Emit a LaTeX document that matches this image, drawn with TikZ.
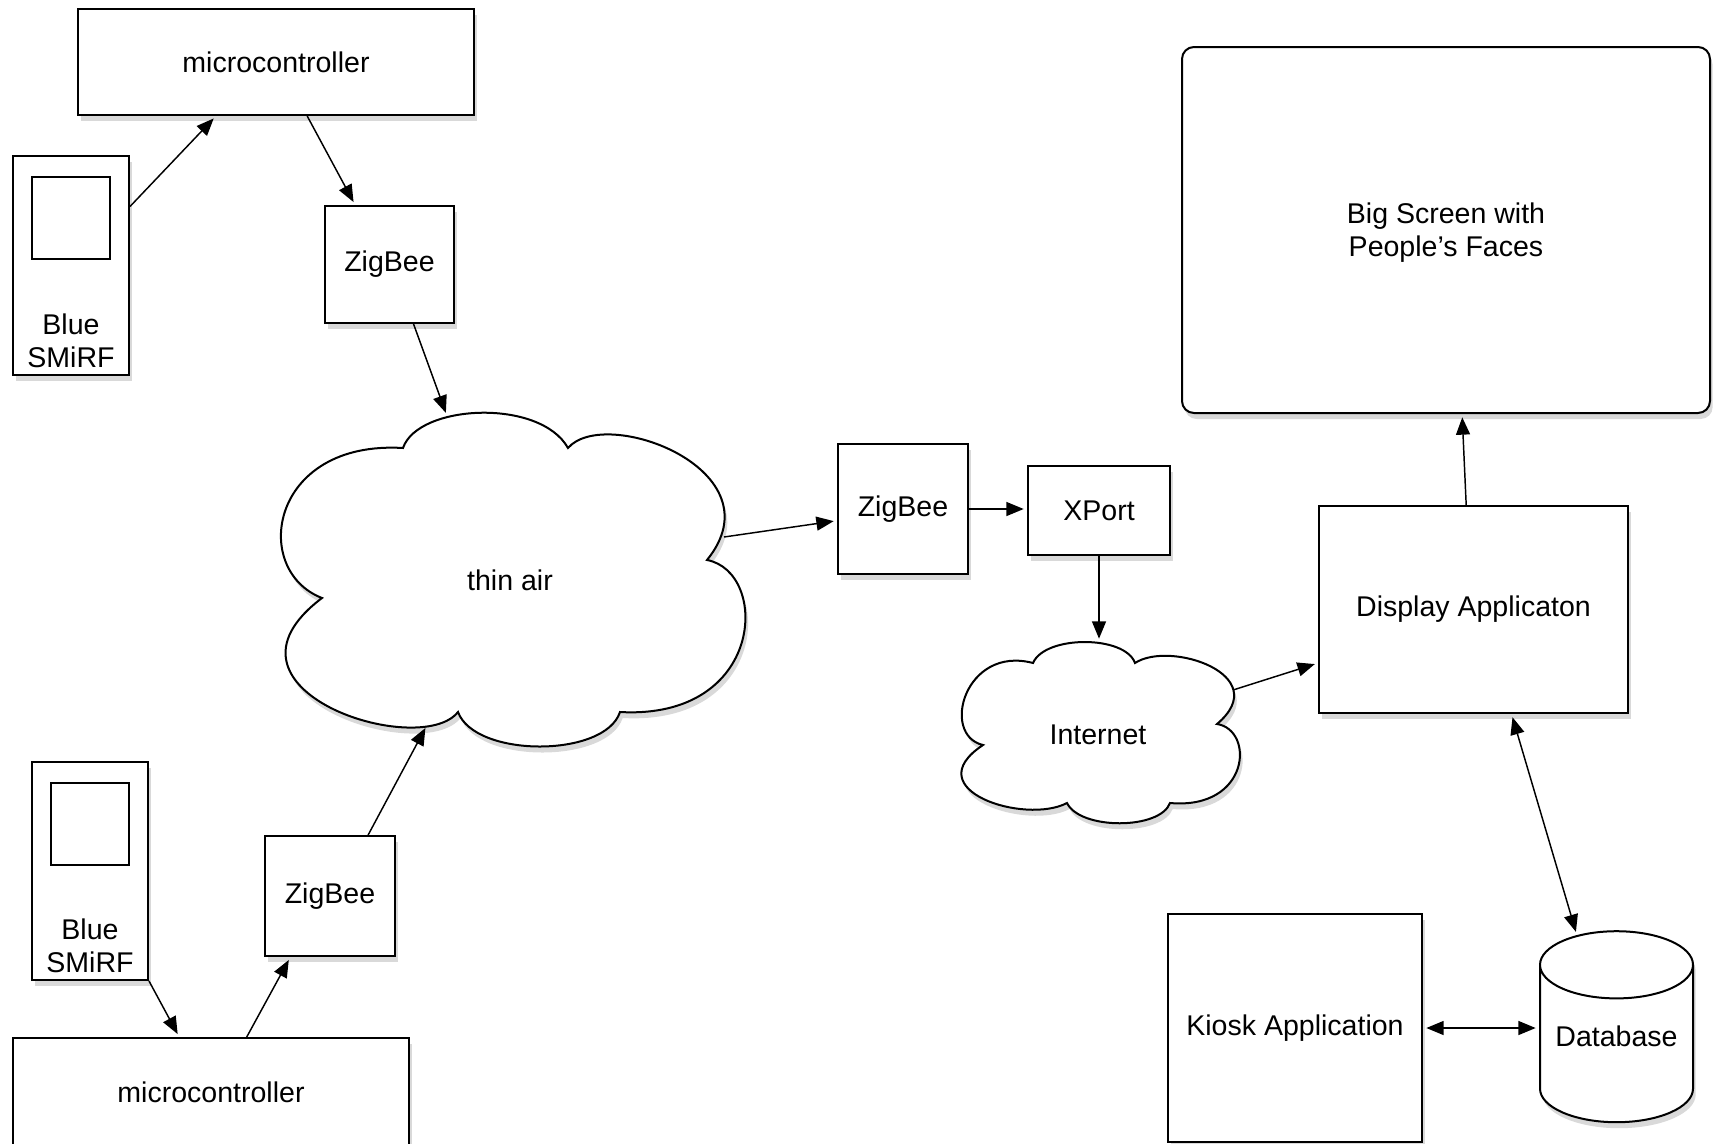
\documentclass[tikz,border=0pt]{standalone}
\usepackage{fontspec}
\setmainfont{Liberation Sans}
\usetikzlibrary{arrows.meta,shadows,shapes.geometric}

\tikzset{every picture/.style={line width=1.1pt}}
\tikzset{
  box/.style={draw, fill=white, line width=1.5pt, inner sep=0pt,
    font=\fontsize{21.4}{25}\selectfont, align=center,
    drop shadow={shadow xshift=2pt, shadow yshift=-4.5pt, opacity=0.3}},
  puff/.style={draw, fill=white, line width=1.5pt,
    drop shadow={shadow xshift=2pt, shadow yshift=-4.5pt, opacity=0.3}},
  txt/.style={font=\fontsize{21.4}{25}\selectfont, align=center, inner sep=0pt},
  wire/.style={-{Triangle[length=13pt,width=10.5pt]}, shorten >=2.5pt},
  wiretwo/.style={{Triangle[length=13pt,width=10.5pt]}-{Triangle[length=13pt,width=10.5pt]},
    shorten >=2.5pt, shorten <=2.5pt}
}

\begin{document}
\begin{tikzpicture}[x=0.75pt,y=0.75pt,yscale=-1,xscale=1]
\useasboundingbox (0,0) rectangle (1713,1143);

%Shape: Rectangle
\node[box, minimum width=297pt, minimum height=79.5pt] (microA) at (276,62) {microcontroller};
%Shape: Rectangle
\node[box, minimum width=87pt, minimum height=164.25pt] (smirfA) at (71,265.5) {};
\draw [fill=white, line width=1.5pt] (32,177) -- (110,177) -- (110,259) -- (32,259) -- cycle ;
% Text Node
\node[txt] (blueA) at (71,341) {Blue\\SMiRF};
%Shape: Rectangle
\node[box, minimum width=96.75pt, minimum height=87.75pt] (zigA) at (389.5,264.5) {ZigBee};

%Shape: Rectangle
\node[box, minimum width=87pt, minimum height=163.5pt] (smirfB) at (90,871) {};
\draw [fill=white, line width=1.5pt] (51,783) -- (129,783) -- (129,865) -- (51,865) -- cycle ;
% Text Node
\node[txt] (blueB) at (90,946) {Blue\\SMiRF};
%Shape: Rectangle
\node[box, minimum width=97.5pt, minimum height=90pt] (zigB) at (330,896) {ZigBee};
%Shape: Rectangle
\node[box, minimum width=297pt, minimum height=81pt] (microB) at (211,1092) {microcontroller};

%Shape: Cloud
\draw [puff] (403,448) .. controls (418,404) and (540,398) .. (568,448) .. controls (605,405) and (780,470) .. (707,560) .. controls (770,572) and (765,720) .. (620,712) .. controls (605,758) and (475,758) .. (458,712) .. controls (420,760) and (200,690) .. (322,598) .. controls (250,570) and (270,440) .. (403,448) -- cycle ;
% Text Node
\node[txt] (air) at (510,580) {thin air};
\coordinate (airN) at (447,416);
\coordinate (airS) at (427,725);
\coordinate (airE) at (724,537);

%Shape: Rectangle
\node[box, minimum width=97.5pt, minimum height=97.5pt] (zigC) at (903,509) {ZigBee};
%Shape: Rectangle
\node[box, minimum width=106.5pt, minimum height=66.75pt] (xport) at (1099,510.5) {XPort};

%Shape: Cloud
\draw [puff] (983,745) .. controls (940,735) and (965,645) .. (1033,663) .. controls (1045,635) and (1125,635) .. (1135,663) .. controls (1170,640) and (1275,675) .. (1217,724) .. controls (1255,730) and (1250,810) .. (1170,803) .. controls (1160,830) and (1080,830) .. (1067,803) .. controls (1025,825) and (915,790) .. (983,745) -- cycle ;
% Text Node
\node[txt] (inet) at (1098,735) {Internet};
\coordinate (inetN) at (1099,642);
\coordinate (inetE) at (1233,690);

%Rounded Rect
\node[box, rounded corners=9pt, text height=44.6pt, minimum width=396pt, minimum height=274.5pt] (screen) at (1446,230) {Big Screen with\\People's Faces};
%Shape: Rectangle
\node[box, minimum width=231.75pt, minimum height=155.25pt] (display) at (1473.5,609.5) {Display Applicaton};
%Shape: Rectangle
\node[box, minimum width=190.5pt, minimum height=171pt] (kiosk) at (1295,1028) {Kiosk Application};
%Shape: Cylinder
\node[box, cylinder, shape border rotate=90, aspect=0.55, text depth=11.5pt, minimum width=114.75pt, minimum height=143.25pt] (db) at (1616.5,1044) {Database};

%Straight Lines
\draw [wire] (smirfA.45.7) -- (microA.222.4) ;
\draw [wire] (microA.300) -- (zigA.120.5) ;
\draw [wire] (zigA.292) -- (airN) ;
\draw [wire] (smirfB.south east) -- (microB.120) ;
\draw [wire] (microB.57.8) -- (zigB.237.7) ;
\draw [wire] (zigB.58.3) -- (airS) ;
\draw [wire] (airE) -- (zigC.190.5) ;
\draw [wire] (zigC.east) -- (zigC.east -| xport.west) ;
\draw [wire] (xport.south) -- (inetN) ;
\draw [wire] (inetE) -- (display.199) ;
\draw [wire] (display.94) -- (screen.275) ;
\draw [wiretwo] (display.290.9) -- (db.110) ;
\draw [wiretwo] (kiosk.east) -- (kiosk.east -| db.west) ;

\end{tikzpicture}
\end{document}
